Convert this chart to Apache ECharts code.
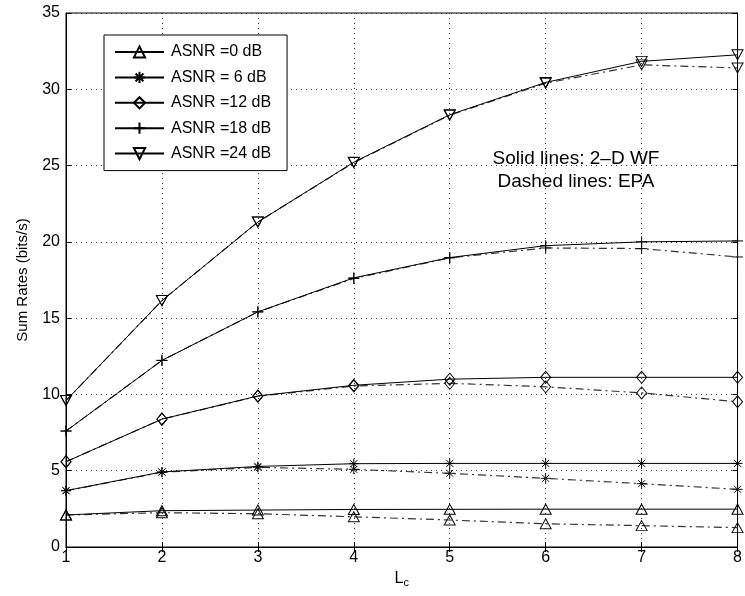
<!DOCTYPE html>
<html>
<head>
<meta charset="utf-8">
<script src="https://cdn.jsdelivr.net/npm/echarts@6/dist/echarts.min.js"></script>
<style>
html,body{margin:0;padding:0;background:#fff;}
#chart{width:745px;height:596px;}
</style>
</head>
<body>
<div id="chart"></div>
<script>
// ---- data ----
const lc = [1, 2, 3, 4, 5, 6, 7, 8];
const yTicks = [0, 5, 10, 15, 20, 25, 30, 35];
const seriesNames = ['ASNR =0 dB', 'ASNR = 6 dB', 'ASNR =12 dB', 'ASNR =18 dB', 'ASNR =24 dB'];
// Solid lines: 2-D WF
const wf0  = [2.1, 2.38, 2.42, 2.46, 2.47, 2.48, 2.48, 2.48];
const wf6  = [3.69, 4.92, 5.28, 5.46, 5.48, 5.48, 5.48, 5.48];
const wf12 = [5.59, 8.38, 9.9, 10.6, 11.0, 11.12, 11.12, 11.12];
const wf18 = [7.6, 12.23, 15.41, 17.64, 18.97, 19.75, 20.0, 20.06];
const wf24 = [9.6, 16.15, 21.3, 25.22, 28.33, 30.45, 31.83, 32.26];
// Dashed lines: EPA
const epa0  = [2.1, 2.25, 2.18, 1.98, 1.77, 1.52, 1.4, 1.27];
const epa6  = [3.69, 4.9, 5.22, 5.09, 4.83, 4.5, 4.15, 3.78];
const epa12 = [5.59, 8.38, 9.88, 10.55, 10.73, 10.5, 10.1, 9.52];
const epa18 = [7.6, 12.23, 15.41, 17.6, 18.95, 19.6, 19.56, 19.01];
const epa24 = [9.6, 16.15, 21.3, 25.2, 28.3, 30.4, 31.6, 31.4];
const annotation = ['Solid lines: 2\u2013D WF', 'Dashed lines: EPA'];

const wfData = [wf0, wf6, wf12, wf18, wf24];
const epaData = [epa0, epa6, epa12, epa18, epa24];

// ---- marker styles ----
const markers = [
  {symbol: 'triangle', size: [11, 10], rotate: 0},
  {symbol: 'path://M0,-10L0,10M-10,0L10,0M-7,-7L7,7M-7,7L7,-7', size: 10, rotate: 0},
  {symbol: 'diamond', size: [10, 12], rotate: 0},
  {symbol: 'path://M0,-10L0,10M-10,0L10,0', size: 11, rotate: 0},
  {symbol: 'triangle', size: [11, 10], rotate: 180}
];

const FONT = 'Liberation Sans, Arial, Helvetica, sans-serif';
const pair = arr => arr.map((v, i) => [lc[i], v]);

const series = [];
for (let k = 0; k < 5; k++) {
  const m = markers[k];
  series.push({
    name: seriesNames[k], type: 'line', data: pair(wfData[k]),
    symbol: m.symbol, symbolSize: m.size, symbolRotate: m.rotate, symbolKeepAspect: true,
    showAllSymbol: true, clip: false, z: 3,
    lineStyle: {color: '#000', width: 1, type: 'solid'},
    itemStyle: {color: 'rgba(255,255,255,0)', borderColor: '#000', borderWidth: 1}
  });
  series.push({
    name: seriesNames[k] + ' EPA', type: 'line', data: pair(epaData[k]),
    symbol: m.symbol, symbolSize: m.size, symbolRotate: m.rotate, symbolKeepAspect: true,
    showAllSymbol: true, clip: false, z: 2,
    lineStyle: {color: '#333', width: 1.2, type: [8, 4, 2, 4]},
    itemStyle: {color: 'rgba(255,255,255,0)', borderColor: '#111', borderWidth: 1}
  });
}

const chart = echarts.init(document.getElementById('chart'), null, {renderer: 'canvas'});
const gridLine = {show: true, lineStyle: {color: '#333', width: 1, type: [1, 4]}};
chart.setOption({
  animation: false,
  backgroundColor: '#fff',
  textStyle: {fontFamily: FONT},
  grid: {left: 66, right: 2, top: 13, bottom: 49, show: true, borderColor: '#000', borderWidth: 1, backgroundColor: 'transparent'},
  legend: {
    data: seriesNames, orient: 'vertical', left: 104, top: 35,
    backgroundColor: '#fff', borderColor: '#000', borderWidth: 1,
    padding: [8, 16, 8, 10], itemWidth: 49, itemHeight: 14, itemGap: 7.4,
    textStyle: {fontFamily: FONT, fontSize: 16, color: '#000', lineHeight: 18, padding: [0, 0, 0, 2]},
    selectedMode: false
  },
  xAxis: [{
    type: 'value', min: 1, max: 8, interval: 1,
    name: 'L{s|c}', nameLocation: 'middle', nameGap: 22,
    nameTextStyle: {fontFamily: FONT, fontSize: 16, color: '#000', rich: {s: {fontSize: 11, verticalAlign: 'bottom', padding: [8, 0, 0, 0], fontFamily: FONT}}},
    axisLine: {show: true, lineStyle: {color: '#000', width: 1}},
    axisTick: {show: true, inside: true, length: 5, lineStyle: {color: '#000'}},
    axisLabel: {fontFamily: FONT, fontSize: 16, color: '#000', margin: 3, showMaxLabel: true, showMinLabel: true},
    splitLine: gridLine
  }, {
    type: 'value', min: 1, max: 8, interval: 1, position: 'top',
    axisLine: {show: true, lineStyle: {color: '#000', width: 1}},
    axisTick: {show: true, inside: true, length: 5, lineStyle: {color: '#000'}},
    axisLabel: {show: false}, splitLine: {show: false}
  }],
  yAxis: [{
    type: 'value', min: yTicks[0], max: yTicks[yTicks.length - 1], interval: yTicks[1] - yTicks[0],
    name: 'Sum Rates (bits/s)', nameLocation: 'middle', nameGap: 36,
    nameTextStyle: {fontFamily: FONT, fontSize: 15, color: '#000'},
    axisLine: {show: true, lineStyle: {color: '#000', width: 1}},
    axisTick: {show: true, inside: true, length: 5, lineStyle: {color: '#000'}},
    axisLabel: {fontFamily: FONT, fontSize: 16, color: '#000', margin: 6},
    splitLine: gridLine
  }, {
    type: 'value', min: yTicks[0], max: yTicks[yTicks.length - 1], interval: yTicks[1] - yTicks[0], position: 'right',
    axisLine: {show: true, lineStyle: {color: '#000', width: 1}},
    axisTick: {show: true, inside: true, length: 5, lineStyle: {color: '#000'}},
    axisLabel: {show: false}, splitLine: {show: false}
  }],
  graphic: [
    {type: 'text', z: 10, style: {text: annotation[0], x: 576, y: 159, textAlign: 'center', textVerticalAlign: 'middle', font: '19px ' + FONT, fill: '#000'}},
    {type: 'text', z: 10, style: {text: annotation[1], x: 576, y: 182, textAlign: 'center', textVerticalAlign: 'middle', font: '19px ' + FONT, fill: '#000'}}
  ],
  series: series
});
</script>
</body>
</html>
